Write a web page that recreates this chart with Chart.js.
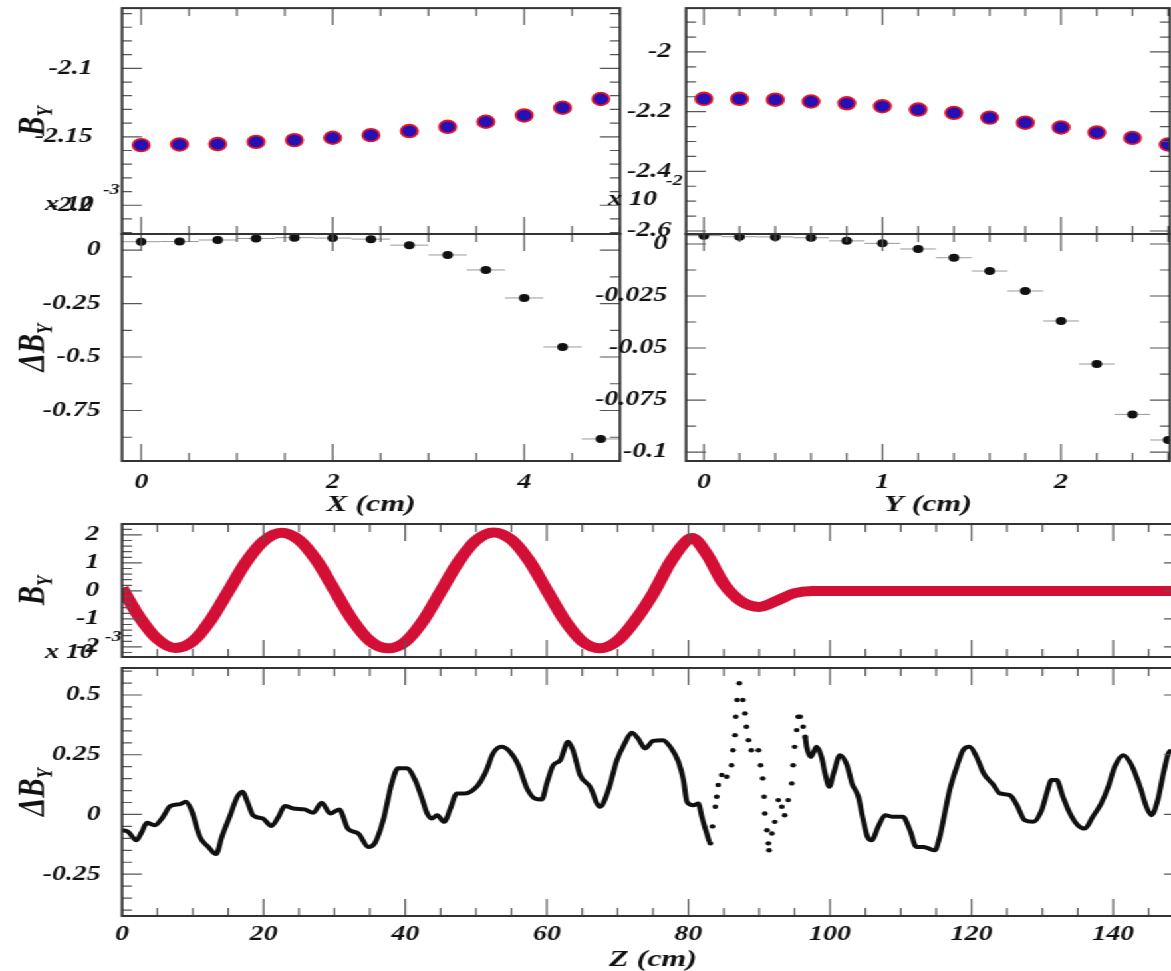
<!DOCTYPE html>
<html>
<head>
<meta charset="utf-8">
<script src="https://cdn.jsdelivr.net/npm/chart.js@4.4.1/dist/chart.umd.min.js"></script>
<style>
html, body { margin: 0; padding: 0; background: #fff; overflow: hidden; width: 1171px; height: 971px; }
#wrap { position: absolute; left: 0; top: 0; transform: scaleX(1.33); transform-origin: 0 0; }
#wrap canvas { position: absolute; left: 0; top: 0; }
</style>
</head>
<body>
<div id="wrap">
  <canvas id="c1"></canvas>
  <canvas id="c2"></canvas>
  <canvas id="c3"></canvas>
  <canvas id="c4"></canvas>
  <canvas id="c5"></canvas>
  <canvas id="c6"></canvas>
</div>
<script>
// --- data ---
const xPos = [0, 0.4, 0.8, 1.2, 1.6, 2.0, 2.4, 2.8, 3.2, 3.6, 4.0, 4.4, 4.8];
const bVsX = [-2.1561, -2.1556, -2.1553, -2.1537, -2.1524, -2.1507, -2.1488, -2.1458, -2.1427, -2.1390, -2.1344, -2.1288, -2.1224];
const dVsX = [0.039, 0.040, 0.047, 0.054, 0.058, 0.056, 0.051, 0.023, -0.023, -0.093, -0.224, -0.453, -0.883];

const yPos = [0, 0.2, 0.4, 0.6, 0.8, 1.0, 1.2, 1.4, 1.6, 1.8, 2.0, 2.2, 2.4, 2.6];
const bVsY = [-2.157, -2.157, -2.160, -2.166, -2.172, -2.182, -2.193, -2.204, -2.220, -2.237, -2.253, -2.270, -2.288, -2.310];
const dVsY = [0.0040, 0.0035, 0.0034, 0.0030, 0.0015, 0.0003, -0.0024, -0.0066, -0.0130, -0.0226, -0.0370, -0.0577, -0.0819, -0.0942];

const zPosB = [0, 2.5, 5, 7.5, 10, 12.5, 15, 17.5, 20, 22.5, 25, 27.5, 30, 32.5, 35, 37.5, 40, 42.5, 45, 47.5,
  50, 52.5, 55, 57.5, 60, 62.5, 65, 67.5, 70, 72.5, 75, 77.5, 80, 80.5, 82.5, 85, 87.5, 90, 92.5, 95, 97.5,
  100, 110, 120, 130, 140, 150];
const bVsZ = [0.10, -0.95, -1.72, -2.04, -1.80, -1.05, -0.02, 1.02, 1.78, 2.08, 1.82, 1.08, 0.03, -1.02, -1.78, -2.05, -1.82, -1.08, -0.03, 1.03,
  1.80, 2.09, 1.83, 1.08, 0.02, -1.04, -1.80, -2.05, -1.78, -1.05, -0.10, 1.05, 1.85, 1.89, 1.35, 0.25, -0.38, -0.57, -0.35, -0.08, 0.0,
  0.0, 0.0, 0.0, 0.0, 0.0, 0.0];

const zPosD = [0.0, 0.9, 2.0, 2.8, 3.5, 4.6, 5.8, 6.8, 8.2, 9.0, 9.8, 11.0, 12.2, 13.3, 14.1, 15.2, 16.3, 17.0, 17.8, 18.5,
  19.9, 21.1, 22.1, 23.0, 24.2, 25.8, 27.0, 28.2, 29.4, 30.7, 31.9, 33.4, 34.8, 35.7, 36.9, 38.1, 39.0, 40.2, 41.4, 42.3,
  43.1, 43.8, 44.5, 45.5, 46.3, 47.3, 48.4, 50.3, 51.5, 52.4, 53.6, 54.8, 56.0, 57.2, 58.3, 59.3, 60.0, 60.9, 61.9, 63.0,
  63.7, 64.7, 66.1, 67.5, 68.7, 69.9, 71.0, 72.0, 72.9, 73.9, 75.0, 76.4, 77.6, 78.6, 79.3, 79.8, 80.7, 81.4, 81.9, 82.6,
  83.1, 83.4, 83.8, 84.0, 84.2, 84.7, 85.4, 86.1, 86.3, 86.6, 86.7, 86.9, 87.2, 87.7, 88.0, 88.2, 88.5, 88.9, 89.9, 90.2,
  90.5, 90.7, 90.8, 91.1, 91.3, 91.4, 91.8, 92.2, 92.7, 93.2, 93.6, 94.1, 94.6, 94.8, 95.0, 95.3, 95.5, 95.8, 96.2, 96.5,
  96.7, 97.3, 98.1, 98.8, 99.3, 99.9, 100.5, 101.4, 102.4, 103.1, 104.0, 104.7, 105.3, 105.9, 106.8, 107.8, 108.9, 110.3, 111.3, 112.2,
  113.2, 113.9, 114.8, 115.5, 116.2, 116.9, 117.9, 118.8, 119.7, 120.7, 121.7, 123.1, 124.0, 125.4, 126.4, 127.5, 128.7, 129.9, 130.6, 131.3,
  132.0, 132.9, 133.9, 135.0, 136.0, 137.1, 138.3, 139.3, 140.2, 141.4, 142.6, 143.8, 144.7, 145.4, 146.3, 147.1, 147.8, 148.3];
const dVsZ = [-0.066, -0.073, -0.108, -0.073, -0.035, -0.045, -0.010, 0.035, 0.043, 0.053, 0.018, -0.094, -0.136, -0.166, -0.094, -0.010, 0.074, 0.095, 0.046, -0.003,
  -0.017, -0.048, -0.010, 0.035, 0.025, 0.021, 0.007, 0.049, 0.004, 0.021, -0.059, -0.080, -0.136, -0.121, -0.024, 0.130, 0.193, 0.193, 0.144, 0.074,
  0.004, -0.017, -0.003, -0.031, 0.018, 0.088, 0.088, 0.123, 0.186, 0.255, 0.283, 0.262, 0.206, 0.109, 0.067, 0.063, 0.130, 0.206, 0.227, 0.304,
  0.269, 0.165, 0.116, 0.032, 0.102, 0.227, 0.297, 0.342, 0.318, 0.276, 0.308, 0.311, 0.276, 0.220, 0.144, 0.053, 0.039, 0.046, -0.010, -0.080,
  -0.121, -0.050, 0.032, 0.074, 0.123, 0.165, 0.158, 0.206, 0.269, 0.332, 0.409, 0.479, 0.549, 0.479, 0.423, 0.367, 0.311, 0.269, 0.269, 0.206,
  0.151, 0.074, 0.004, -0.066, -0.121, -0.150, -0.080, -0.031, 0.060, 0.032, -0.003, 0.060, 0.130, 0.206, 0.283, 0.353, 0.409, 0.409, 0.367, 0.325,
  0.283, 0.241, 0.283, 0.241, 0.172, 0.116, 0.172, 0.248, 0.206, 0.130, 0.074, -0.024, -0.094, -0.108, -0.052, -0.003, -0.010, -0.010, -0.066, -0.136,
  -0.136, -0.142, -0.150, -0.094, 0.004, 0.102, 0.199, 0.269, 0.283, 0.241, 0.172, 0.123, 0.088, 0.081, 0.039, -0.024, -0.031, 0.018, 0.088, 0.144,
  0.144, 0.074, 0.004, -0.045, -0.059, -0.010, 0.046, 0.116, 0.199, 0.248, 0.206, 0.116, 0.032, -0.003, 0.060, 0.172, 0.255, 0.270];

// tick labels
const xTicksX = [0, 2, 4];
const xTicksY = [0, 1, 2];
const xTicksZ = [0, 20, 40, 60, 80, 100, 120, 140];
const yTicksBX = [-2.2, -2.15, -2.1];
const yTicksDX = [-0.75, -0.5, -0.25, 0];
const yTicksBY = [-2.6, -2.4, -2.2, -2];
const yTicksDY = [-0.1, -0.075, -0.05, -0.025, 0];
const yTicksBZ = [-2, -1, 0, 1, 2];
const yTicksDZ = [-0.25, 0, 0.25, 0.5];

// --- drawing ---
const S = 1.33;               // horizontal stretch of the picture
const CW = Math.round(1200 / S);
const CH = 971;
const ink = '#111';
const serif = "'Liberation Serif', 'DejaVu Serif', serif";
const tickFont = { family: serif, size: 21, style: 'italic', weight: 'bold' };
const titleFont = { family: serif, size: 24, style: 'italic', weight: 'bold' };

function stepTicks(min, max, step) {
  const out = [];
  for (let k = Math.ceil(min / step - 1e-9); k * step <= max + 1e-9; k++) {
    out.push({ value: +(k * step).toFixed(10) });
  }
  return out;
}
function isMajor(v, majors) {
  return majors.some(m => Math.abs(m - v) < 1e-7);
}
function pts(xs, ys) {
  return xs.map((x, i) => ({ x: x, y: ys[i] }));
}

function makeFrame(xa, ya, deco) {
  return {
    id: 'rootFrame',
    beforeDatasetsDraw(chart) {
      const ctx = chart.ctx, xs = chart.scales.x;
      ctx.save();
      ctx.strokeStyle = '#9a9a9a';
      ctx.lineWidth = 1;
      chart.data.datasets.forEach((ds, i) => {
        if (!ds.xErr) return;
        chart.getDatasetMeta(i).data.forEach((el, j) => {
          const v = ds.data[j].x;
          ctx.beginPath();
          ctx.moveTo(xs.getPixelForValue(v - ds.xErr), el.y);
          ctx.lineTo(xs.getPixelForValue(v + ds.xErr), el.y);
          ctx.stroke();
        });
      });
      ctx.restore();
    },
    afterDatasetsDraw(chart) {
      const ctx = chart.ctx, a = chart.chartArea;
      const xs = chart.scales.x, ys = chart.scales.y;
      ctx.save();
      ctx.strokeStyle = '#555';
      ctx.lineWidth = 1.2;
      ctx.beginPath();
      xs.ticks.forEach(t => {
        const p = xs.getPixelForValue(t.value);
        const len = isMajor(t.value, xa.majors) ? 17 : 8;
        ctx.moveTo(p, a.bottom); ctx.lineTo(p, a.bottom - len);
        ctx.moveTo(p, a.top); ctx.lineTo(p, a.top + len);
      });
      ys.ticks.forEach(t => {
        const p = ys.getPixelForValue(t.value);
        const len = isMajor(t.value, ya.majors) ? 15 : 7.5;
        ctx.moveTo(a.left, p); ctx.lineTo(a.left + len, p);
        ctx.moveTo(a.right, p); ctx.lineTo(a.right - len, p);
      });
      ctx.stroke();
      ctx.strokeStyle = '#333';
      ctx.lineWidth = 2;
      ctx.strokeRect(a.left, a.top, a.right - a.left, a.bottom - a.top);
      ctx.restore();
    },
    afterDraw(chart) {
      const ctx = chart.ctx, a = chart.chartArea;
      ctx.save();
      ctx.fillStyle = ink;
      if (deco.title) {
        const main = 'italic bold 29px ' + serif;
        const sub = 'italic bold 17px ' + serif;
        ctx.translate(24, (a.top + a.bottom) / 2);
        ctx.rotate(-Math.PI / 2);
        ctx.font = main;
        const w1 = ctx.measureText(deco.title).width;
        ctx.font = sub;
        const w2 = ctx.measureText('Y').width;
        const x0 = -(w1 + w2) / 2;
        ctx.textBaseline = 'alphabetic';
        ctx.font = main;
        ctx.fillText(deco.title, x0, 9);
        ctx.font = sub;
        ctx.fillText('Y', x0 + w1, 15);
        ctx.setTransform(1, 0, 0, 1, 0, 0);
      }
      if (deco.expo) {
        const e = deco.expo;
        ctx.textBaseline = 'middle';
        ctx.textAlign = 'left';
        ctx.font = 'italic bold 21px ' + serif;
        ctx.fillText('x 10', e.x / S, e.y);
        ctx.font = 'italic bold 15px ' + serif;
        ctx.fillText(e.ex, e.ex0 / S, e.ey);
      }
      ctx.restore();
    }
  };
}

function panel(id, box, xa, ya, datasets, deco) {
  const cv = document.getElementById(id);
  cv.width = CW;
  cv.height = CH;
  const xh = xa.labels ? 58 : 0;
  return new Chart(cv, {
    type: 'scatter',
    data: { datasets: datasets },
    plugins: [makeFrame(xa, ya, deco)],
    options: {
      responsive: false,
      animation: false,
      events: [],
      layout: { padding: { left: 0, top: box.t, right: CW - box.r / S, bottom: CH - box.b - xh } },
      plugins: { legend: { display: false }, tooltip: { enabled: false } },
      scales: {
        x: {
          type: 'linear', position: 'bottom', min: xa.min, max: xa.max,
          grid: { display: false, drawTicks: false }, border: { display: false },
          afterBuildTicks: s => { s.ticks = stepTicks(xa.min, xa.max, xa.minor); },
          afterFit: s => { s.height = xh; s.paddingLeft = 0; s.paddingRight = 0; },
          ticks: {
            display: xa.labels, autoSkip: false, maxRotation: 0, padding: xa.pad || 0,
            color: ink, font: tickFont,
            callback: v => isMajor(v, xa.majors) ? String(+v.toFixed(6)) : ''
          },
          title: { display: !!xa.title, text: xa.title || '', color: ink, font: titleFont, padding: 0 }
        },
        y: {
          type: 'linear', position: 'left', min: ya.min, max: ya.max,
          grid: { display: false, drawTicks: false }, border: { display: false },
          afterBuildTicks: s => { s.ticks = stepTicks(ya.min, ya.max, ya.minor); },
          afterFit: s => { s.width = box.l / S; s.paddingTop = 0; s.paddingBottom = 0; },
          ticks: {
            autoSkip: false, padding: ya.pad, color: ink, font: tickFont,
            callback: v => isMajor(v, ya.majors) ? String(+v.toFixed(6)) : ''
          }
        }
      }
    }
  });
}

const ringRed = '#e2142a';
const dotBlue = '#2410b4';

function bluePoints(xs, ys) {
  return [{
    data: pts(xs, ys), pointRadius: 6.3, pointBorderWidth: 1.8,
    pointBackgroundColor: dotBlue, pointBorderColor: ringRed
  }];
}
function blackPoints(xs, ys, err) {
  return [{
    data: pts(xs, ys), xErr: err, pointRadius: 4, pointBorderWidth: 0,
    pointBackgroundColor: '#111', pointBorderColor: '#111'
  }];
}

const axX = { min: -0.2, max: 5.0, minor: 0.5, majors: xTicksX };
const axY = { min: -0.1, max: 2.61, minor: 0.2, majors: xTicksY };
const axZ = { min: 0, max: 150, minor: 5, majors: xTicksZ };

panel('c1', { l: 122, r: 620, t: 8, b: 234 },
  Object.assign({ labels: false }, axX),
  { min: -2.221, max: -2.056, minor: 0.01, majors: yTicksBX, pad: 22 },
  bluePoints(xPos, bVsX), { title: 'B' });

panel('c2', { l: 122, r: 620, t: 234, b: 461 },
  Object.assign({ labels: true, pad: 9, title: 'X (cm)' }, axX),
  { min: -0.986, max: 0.075, minor: 0.125, majors: yTicksDX, pad: 16 },
  blackPoints(xPos, dVsX, 0.2),
  { title: '\u0394B', expo: { x: 45, y: 205, ex: '-3', ex0: 103, ey: 190 } });

panel('c3', { l: 686, r: 1170, t: 8, b: 234 },
  Object.assign({ labels: false }, axY),
  { min: -2.61, max: -1.853, minor: 0.05, majors: yTicksBY, pad: 11 },
  bluePoints(yPos, bVsY), {});

panel('c4', { l: 686, r: 1170, t: 234, b: 461 },
  Object.assign({ labels: true, pad: 9, title: 'Y (cm)' }, axY),
  { min: -0.1043, max: 0.0048, minor: 0.0125, majors: yTicksDY, pad: 14 },
  blackPoints(yPos, dVsY, 0.1),
  { expo: { x: 608, y: 200, ex: '-2', ex0: 666, ey: 181 } });

panel('c5', { l: 122, r: 1184, t: 524, b: 657 },
  Object.assign({ labels: false }, axZ),
  { min: -2.36, max: 2.39, minor: 0.2, majors: yTicksBZ, pad: 17 },
  [{
    data: pts(zPosB, bVsZ), showLine: true, pointRadius: 0, borderWidth: 10,
    borderColor: '#d40f35', cubicInterpolationMode: 'monotone'
  }, {
    data: pts(zPosB, bVsZ), showLine: true, pointRadius: 0, borderWidth: 3.5,
    borderColor: 'rgba(70,0,140,0.7)', cubicInterpolationMode: 'monotone'
  }], { title: 'B' });

panel('c6', { l: 122, r: 1184, t: 668, b: 916 },
  Object.assign({ labels: true, pad: 6, title: 'Z (cm)' }, axZ),
  { min: -0.425, max: 0.613, minor: 0.05, majors: yTicksDZ, pad: 16 },
  [{
    data: pts(zPosD, dVsZ), showLine: true, borderWidth: 4, borderColor: '#111',
    cubicInterpolationMode: 'monotone',
    pointRadius: c => (c.raw && c.raw.x >= 83 && c.raw.x <= 96.6) ? 2.2 : 0,
    pointBorderWidth: 0, pointBackgroundColor: '#111',
    segment: {
      borderColor: c => (c.p0.parsed.x >= 83 && c.p1.parsed.x <= 96.6) ? 'rgba(0,0,0,0)' : undefined
    }
  }],
  { title: '\u0394B', expo: { x: 45, y: 653, ex: '-3', ex0: 105, ey: 637 } });
</script>
</body>
</html>
